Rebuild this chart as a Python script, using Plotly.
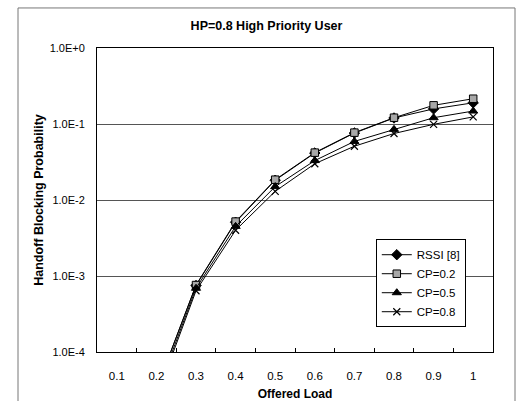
import plotly.graph_objects as go

loads = ["0.1", "0.2", "0.3", "0.4", "0.5", "0.6", "0.7", "0.8", "0.9", "1"]
rssi = [2e-7, 3.2e-5, 7.5e-4, 5.1e-3, 1.82e-2, 4.15e-2, 7.6e-2, 1.20e-1, 0.158, 0.190]
cp02 = [2e-7, 3.2e-5, 7.6e-4, 5.2e-3, 1.85e-2, 4.20e-2, 7.7e-2, 1.21e-1, 0.176, 0.215]
cp05 = [1.5e-7, 2.8e-5, 6.9e-4, 4.5e-3, 1.50e-2, 3.30e-2, 5.9e-2, 8.5e-2, 0.121, 0.148]
cp08 = [1.2e-7, 2.5e-5, 6.4e-4, 4.0e-3, 1.30e-2, 3.00e-2, 5.1e-2, 7.5e-2, 0.099, 0.124]
y_tickvals = [1e-4, 1e-3, 1e-2, 1e-1, 1]
y_ticktext = ["1.0E-4", "1.0E-3", "1.0E-2", "1.0E-1", "1.0E+0"]

FONT = "Liberation Sans, Arial, sans-serif"

series = [
    ("RSSI [8]", rssi, dict(symbol="diamond", size=8, color="black", line=dict(color="black", width=1))),
    ("CP=0.2", cp02, dict(symbol="square", size=7.5, color="#a8a8a8", line=dict(color="black", width=1))),
    ("CP=0.5", cp05, dict(symbol="triangle-up", size=8, color="black", line=dict(color="black", width=1))),
    ("CP=0.8", cp08, dict(symbol="x-thin", size=7, color="black", line=dict(color="black", width=1.2))),
]

fig = go.Figure()
for name, vals, mk in series:
    fig.add_trace(go.Scatter(
        x=loads, y=vals, name=name, mode="lines+markers",
        line=dict(color="black", width=1), marker=mk,
    ))

fig.update_layout(
    width=518, height=401,
    margin=dict(l=97, r=25, t=48, b=49),
    paper_bgcolor="white", plot_bgcolor="white",
    font=dict(family=FONT, size=11, color="black"),
    title=dict(text="<b>HP=0.8 High Priority User</b>", x=0.5145, xref="container",
               xanchor="center", y=1 - 26 / 401, yref="container", yanchor="middle",
               font=dict(family=FONT, size=12.5, color="black")),
    showlegend=True,
    legend=dict(x=0.704, y=0.371, xanchor="left", yanchor="top",
                bgcolor="white", bordercolor="black", borderwidth=1,
                font=dict(family=FONT, size=11.5, color="black"),
                tracegroupgap=0, itemwidth=30),
    shapes=[dict(type="rect", xref="paper", yref="paper",
                 x0=(18 - 97) / 396, x1=(515 - 97) / 396,
                 y0=(351.7 - 420) / 303.7, y1=(351.7 - 8) / 303.7,
                 line=dict(color="#777777", width=1), fillcolor="rgba(0,0,0,0)", layer="below")],
)

fig.update_xaxes(
    type="category", tickson="boundaries", ticks="inside", ticklen=4,
    tickcolor="black", showgrid=False, showline=True, linecolor="black",
    linewidth=1, mirror=True, range=[-0.5, 9.5], ticklabelstandoff=13,
    automargin=False,
    tickfont=dict(family=FONT, size=11.5, color="black"),
    title=dict(text="<b>Offered Load</b>", font=dict(family=FONT, size=12, color="black"), standoff=12),
)
fig.update_yaxes(
    type="log", range=[-4, 0], tickvals=y_tickvals, ticktext=y_ticktext,
    ticks="", showgrid=True, gridcolor="#555555", gridwidth=1,
    showline=True, linecolor="black", linewidth=1, mirror=True,
    ticklabelstandoff=9, zeroline=False, automargin=False,
    tickfont=dict(family=FONT, size=11, color="black"),
    title=dict(text="<b>Handoff Blocking Probability</b>", font=dict(family=FONT, size=12.5, color="black"), standoff=3),
)

fig.write_html("out.html")
